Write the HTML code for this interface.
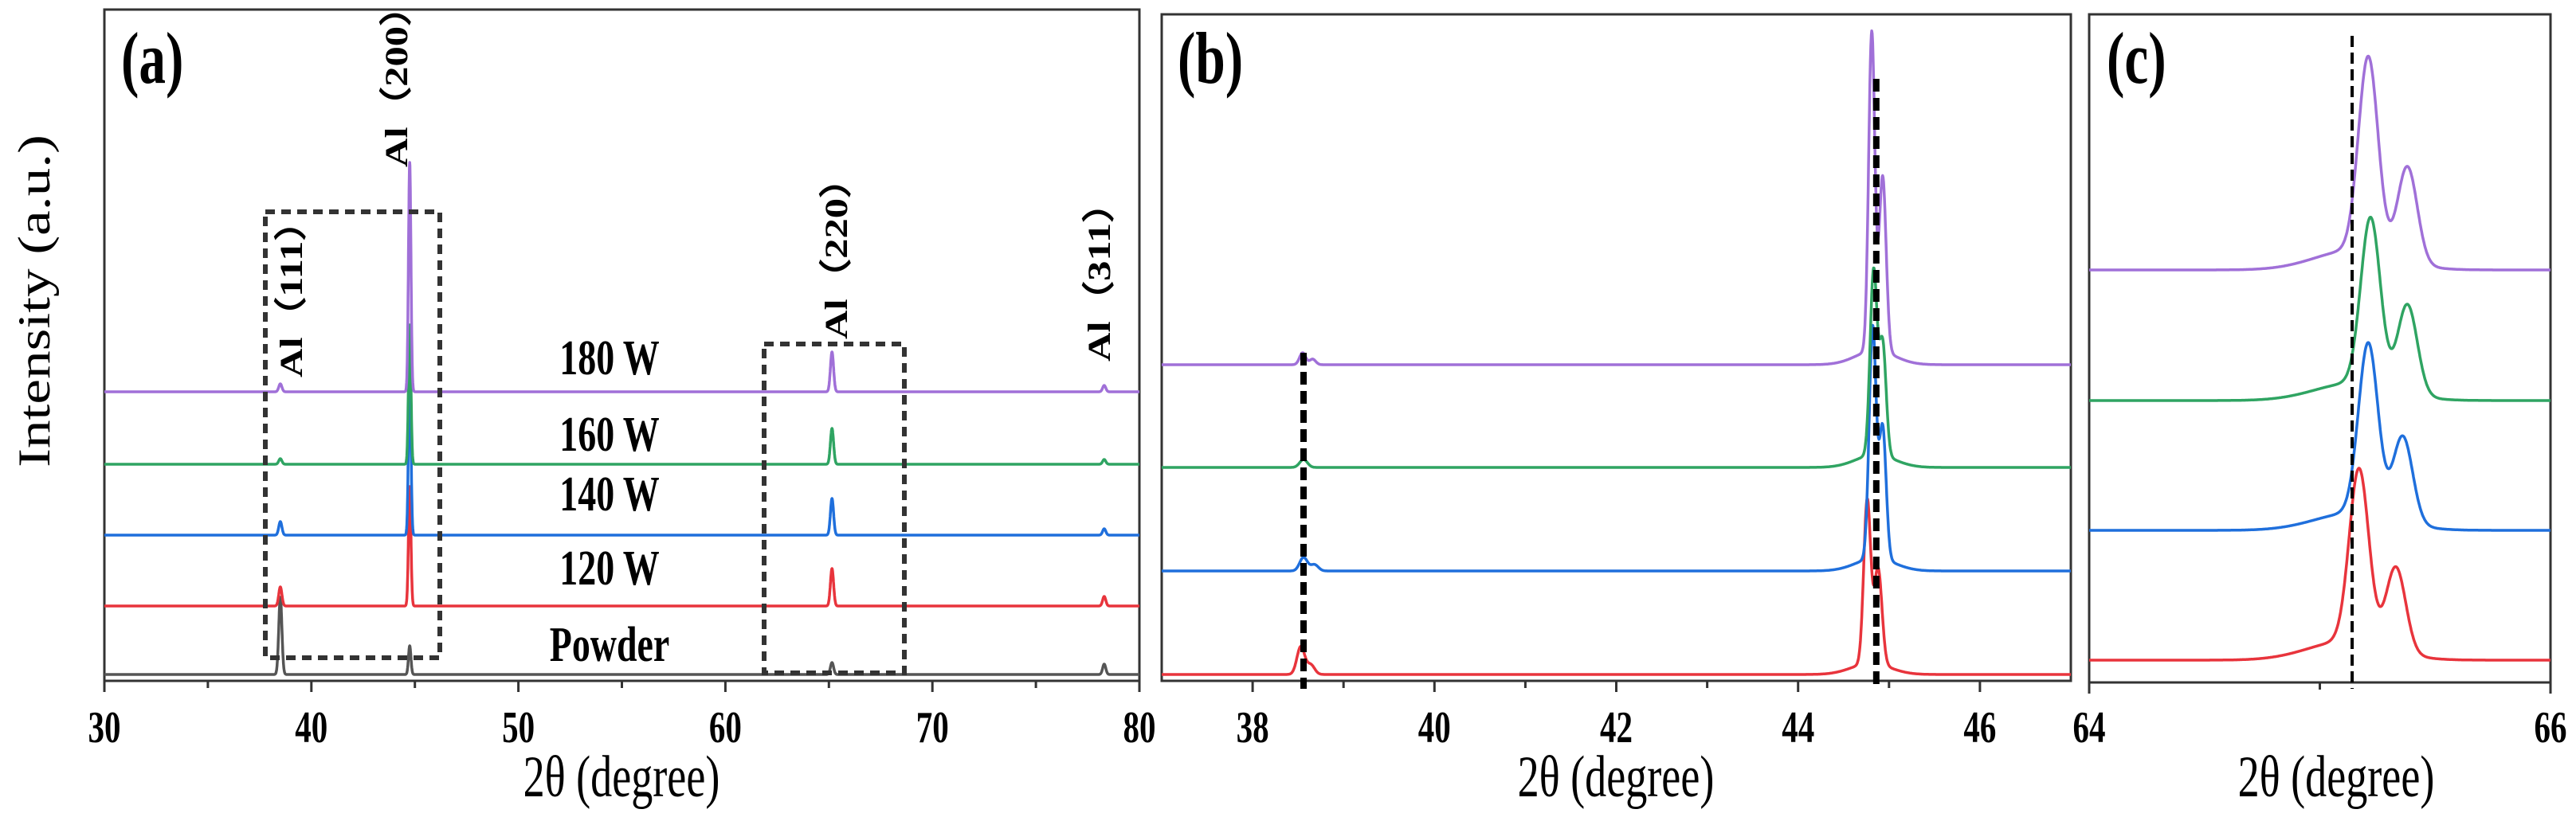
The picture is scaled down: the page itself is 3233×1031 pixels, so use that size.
<!DOCTYPE html>
<html><head><meta charset="utf-8"><style>
body{margin:0;background:#fff}
svg{display:block}
text{font-family:"Liberation Serif",serif}
</style></head><body>
<svg id="chart" width="3233" height="1031" viewBox="0 0 3233 1031" xmlns="http://www.w3.org/2000/svg"></svg>
<script>
// ---------- DATA ----------
const seriesNames = ["180 W","160 W","140 W","120 W","Powder"];
const seriesColors = ["#a070d8","#2fa462","#1f6fdc","#e8343c","#555555"];
// Panel (a)
const aPeakPos = [38.5, 44.75, 65.15, 78.3];
const aBaselines = [0, 91, 180, 269, 355];
const aHeights = [
  [10, 288, 50, 8],
  [7, 175, 45, 6],
  [17, 210, 46, 8],
  [24, 150, 47, 12],
  [97, 36, 15, 13]
];
const aTicks = [30,40,50,60,70,80];
// Panel (b)
const bBaselines = [0,129,259,389];
const bPeaks = [
  [[38.55,15,0.08],[38.66,7,0.08],[44.81,400,0.08],[44.93,220,0.09],[44.85,18,0.5]],
  [[38.56,10,0.1],[44.83,230,0.09],[44.93,140,0.09],[44.85,16,0.5]],
  [[38.56,17,0.1],[38.68,8,0.1],[44.82,290,0.09],[44.93,165,0.09],[44.85,16,0.5]],
  [[38.53,35,0.1],[38.64,12,0.1],[44.76,205,0.09],[44.88,120,0.1],[44.8,14,0.5]]
];
const bTicks = [38,40,42,44,46];
const bDashed = [38.56, 44.86];
// Panel (c)
const cBaselines = [0,164,327,490];
const cPeaks = [
  [[65.21,245,0.1],[65.38,120,0.1],[65.15,25,0.4]],
  [[65.22,210,0.1],[65.38,112,0.1],[65.15,22,0.4]],
  [[65.21,215,0.1],[65.36,108,0.1],[65.15,22,0.4]],
  [[65.17,218,0.1],[65.33,106,0.1],[65.12,24,0.4]]
];
const cTicks = [64,66];
const cDashed = 65.14;

// ---------- HELPERS ----------
const svg=document.getElementById('chart');
const NS="http://www.w3.org/2000/svg";
function mk(tag,attrs,parent){const e=document.createElementNS(NS,tag);for(const k in attrs)e.setAttribute(k,attrs[k]);(parent||svg).appendChild(e);return e;}
function txt(s,attrs,parent){const e=mk('text',attrs,parent);e.textContent=s;return e;}
function prof(x,peaks){let s=0;for(const p of peaks){const d=(x-p[0])/p[2];s+=p[1]*Math.exp(-4*Math.LN2*d*d);}return s;}

function panel(name,x0,x1,top,bottom,xmin,xmax){
  const g=mk('g',{});
  
  
  const sx=v=>x0+(v-xmin)/(xmax-xmin)*(x1-x0);
  const fr=mk('rect',{x:x0,y:top,width:x1-x0,height:bottom-top,fill:'none',stroke:'#333',"stroke-width":3},g);
  
  
  return {g,sx};
}
function ctext(s,x,y,size,bold,anchor,g,name){
  const e=txt(s,{x:0,y:0,"font-size":size,"font-weight":bold?"bold":"normal","text-anchor":anchor,transform:`translate(${x},${y}) scale(0.82,1.12)`},g);
  
  
  return e;
}
function ticks(P,g,majors,minors,bottom,labelY){
  for(const t of majors){
    const l=mk('line',{x1:P.sx(t),x2:P.sx(t),y1:bottom,y2:bottom+14,stroke:'#333',"stroke-width":3},g);
    
    
    ctext(String(t),P.sx(t),labelY,50,true,'middle',g,'x-tick-label');
  }
  for(const t of minors){
    const l=mk('line',{x1:P.sx(t),x2:P.sx(t),y1:bottom,y2:bottom+9,stroke:'#333',"stroke-width":3},g);
    
    
  }
}
function trace(P,g,peaks,base,xmin,xmax,step,color,name){
  const pts=[];
  for(let x=xmin;x<=xmax+1e-9;x+=step){pts.push(P.sx(x).toFixed(1)+','+(base-prof(x,peaks)).toFixed(1));}
  const pl=mk('polyline',{points:pts.join(' '),fill:'none',stroke:color,"stroke-width":3.5,"stroke-linejoin":"round"},g);
  
  
}

// ---------- PANEL A ----------
const A=panel('panel-a',131,1430,12,855,30,80);
const aTop=492;
for(let i=aHeights.length-1;i>=0;i--){
  const pk=aPeakPos.map((p,j)=>[p,aHeights[i][j],j==1?0.14:0.18]);
  trace(A,A.g,pk,aTop+aBaselines[i],30,80,0.01,seriesColors[i],'trace-a-'+seriesNames[i].replace(' ','').toLowerCase());
}
ticks(A,A.g,aTicks,[35,45,55,65,75],855,932);
let bx=mk('rect',{x:333,y:266,width:219,height:560,fill:'none',stroke:'#333',"stroke-width":6,"stroke-dasharray":"12 8"},A.g);


bx=mk('rect',{x:959,y:432,width:176,height:413,fill:'none',stroke:'#333',"stroke-width":6,"stroke-dasharray":"12 8"},A.g);


const peakLabels=[["Al（111）",379,474],["Al（200）",511,210],["Al（220）",1063,426],["Al（311）",1393,454]];
for(const [s,x,y] of peakLabels){
  const t=txt(s,{x:0,y:0,"font-size":46,"font-weight":"bold",transform:`translate(${x},${y}) rotate(-90) scale(1.1,0.88)`,"font-family":'"Liberation Serif","Noto Serif CJK SC",serif'},A.g);
  
  
}
const sampleY=[470,566,641,734,830];
seriesNames.forEach((s,i)=>{
  ctext(s,765,sampleY[i],56,true,'middle',A.g,'sample-label');
});
ctext('(a)',152,104,82,true,'start',A.g,'panel-label-a');
ctext('2θ (degree)',780,1000,66,false,'middle',A.g,'x-axis-title-a');
let t=txt('Intensity (a.u.)',{x:0,y:0,"font-size":62,"text-anchor":"middle",transform:'translate(62,378) rotate(-90) scale(1.15,0.92)'},A.g);



// ---------- PANEL B ----------
const B=panel('panel-b',1458,2599,18,855,37,47);
const bTop=458;
for(let i=bPeaks.length-1;i>=0;i--){
  trace(B,B.g,bPeaks[i],bTop+bBaselines[i],37,47,0.005,seriesColors[i],'trace-b-'+seriesNames[i].replace(' ','').toLowerCase());
}
let d=mk('line',{x1:B.sx(bDashed[0]),x2:B.sx(bDashed[0]),y1:443,y2:865,stroke:'#000',"stroke-width":8,"stroke-dasharray":"16 8"},B.g);


d=mk('line',{x1:B.sx(bDashed[1]),x2:B.sx(bDashed[1]),y1:99,y2:865,stroke:'#000',"stroke-width":8,"stroke-dasharray":"16 8"},B.g);


ticks(B,B.g,bTicks,[39,41,43,45],855,932);
ctext('(b)',1478,104,82,true,'start',B.g,'panel-label-b');
ctext('2θ (degree)',2028,1000,66,false,'middle',B.g,'x-axis-title-b');

// ---------- PANEL C ----------
const C=panel('panel-c',2622,3201,18,857,64,66);
const cTop=339;
for(let i=cPeaks.length-1;i>=0;i--){
  trace(C,C.g,cPeaks[i],cTop+cBaselines[i],64,66,0.002,seriesColors[i],'trace-c-'+seriesNames[i].replace(' ','').toLowerCase());
}
d=mk('line',{x1:C.sx(cDashed),x2:C.sx(cDashed),y1:45,y2:865,stroke:'#000',"stroke-width":4,"stroke-dasharray":"14 7"},C.g);


ticks(C,C.g,cTicks,[65],857,932);
ctext('(c)',2644,104,82,true,'start',C.g,'panel-label-c');
ctext('2θ (degree)',2932,1000,66,false,'middle',C.g,'x-axis-title-c');
</script>
</body></html>
